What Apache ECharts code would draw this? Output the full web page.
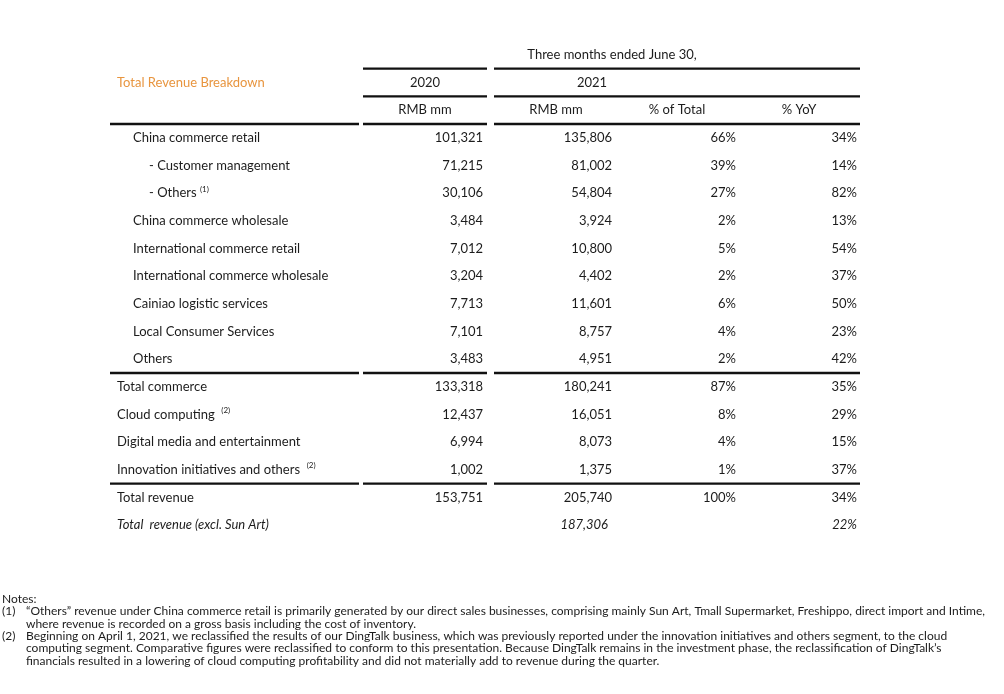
<!DOCTYPE html>
<html>
<head>
<meta charset="utf-8">
<script src="https://cdn.jsdelivr.net/npm/echarts@6/dist/echarts.min.js"></script>
<style>
html,body{margin:0;padding:0;background:#fff;}
#chart{width:1004px;height:694px;}
</style>
</head>
<body>
<div id="chart"></div>
<script>
// ---------------- data ----------------
const periodHeader = 'Three months ended June 30,';
const tableTitle = 'Total Revenue Breakdown';
const yearHeaders = ['2020', '2021'];
const unitHeaders = ['RMB mm', 'RMB mm', '% of Total', '% YoY'];

const rowLabels = [
  'China commerce retail',
  '- Customer management',
  '- Others',
  'China commerce wholesale',
  'International commerce retail',
  'International commerce wholesale',
  'Cainiao logistic services',
  'Local Consumer Services',
  'Others',
  'Total commerce',
  'Cloud computing',
  'Digital media and entertainment',
  'Innovation initiatives and others',
  'Total revenue',
  'Total  revenue (excl. Sun Art)'
];
const rowLevel = [1, 2, 2, 1, 1, 1, 1, 1, 1, 0, 0, 0, 0, 0, 0];
const rowNote = ['', '', '(1)', '', '', '', '', '', '', '', '(2)', '', '(2)', '', ''];
const rowItalic = [0, 0, 0, 0, 0, 0, 0, 0, 0, 0, 0, 0, 0, 0, 1];

const rev2020 = [101321, 71215, 30106, 3484, 7012, 3204, 7713, 7101, 3483, 133318, 12437, 6994, 1002, 153751, null];
const rev2021 = [135806, 81002, 54804, 3924, 10800, 4402, 11601, 8757, 4951, 180241, 16051, 8073, 1375, 205740, 187306];
const pctOfTotal = [66, 39, 27, 2, 5, 2, 6, 4, 2, 87, 8, 4, 1, 100, null];
const pctYoY = [34, 14, 82, 13, 54, 37, 50, 23, 42, 35, 29, 15, 37, 34, 22];

const notesLead = ['Notes:', '(1)', '', '(2)', '', ''];
const notesText = [
  '\u201cOthers\u201d revenue under China commerce retail is primarily generated by our direct sales businesses, comprising mainly Sun Art, Tmall Supermarket, Freshippo, direct import and Intime,',
  'where revenue is recorded on a gross basis including the cost of inventory.',
  'Beginning on April 1, 2021, we reclassified the results of our DingTalk business, which was previously reported under the innovation initiatives and others segment, to the cloud',
  'computing segment. Comparative figures were reclassified to conform to this presentation. Because DingTalk remains in the investment phase, the reclassification of DingTalk\u2019s',
  'financials resulted in a lowering of cloud computing profitability and did not materially add to revenue during the quarter.'
];

// ---------------- layout (positions on the x scale, row units on the y scale) ----------------
const FONT = 'Lato, "Open Sans", sans-serif';
const TEXT = '#1c1c1c';
const ORANGE = '#E8953F';
const levelX = [117, 133, 149];
const colRight = { r2020: 483, r2021: 612, pTot: 736, pYoY: 857 };
const center = { period: 612, y2020: 425, y2021: 592, u2020: 425, u2021: 556, uTot: 677, uYoY: 799 };
const HEADER_ROWS = 3;
const segLabel = [110, 359], seg2020 = [363, 487], seg2021 = [494, 860];
const rules = [
  [seg2020, 0.5], [seg2021, 0.5],
  [seg2020, 1.5], [seg2021, 1.5],
  [segLabel, 2.5], [seg2020, 2.5], [seg2021, 2.5],
  [segLabel, 11.5], [seg2020, 11.5], [seg2021, 11.5],
  [segLabel, 15.5], [seg2020, 15.5], [seg2021, 15.5]
];

// ---------------- build cells ----------------
const fmtNum = v => v == null ? '' : v.toLocaleString('en-US');
const fmtPct = v => v == null ? '' : v + '%';
const cells = [];
cells.push({ x: center.period, row: 0, text: periodHeader, align: 'center' });
cells.push({ x: levelX[0], row: 1, text: tableTitle, align: 'left', color: ORANGE });
cells.push({ x: center.y2020, row: 1, text: yearHeaders[0], align: 'center' });
cells.push({ x: center.y2021, row: 1, text: yearHeaders[1], align: 'center' });
[center.u2020, center.u2021, center.uTot, center.uYoY].forEach((cx, i) => {
  cells.push({ x: cx, row: 2, text: unitHeaders[i], align: 'center' });
});
rowLabels.forEach((lab, i) => {
  const row = HEADER_ROWS + i;
  const it = !!rowItalic[i];
  let t = lab;
  if (rowNote[i]) {
    const gap = i === 2 ? ' ' : '  ';
    t = lab + gap + '{sup|' + rowNote[i] + '}';
  }
  cells.push({ x: levelX[rowLevel[i]], row, text: t, align: 'left', italic: it });
  cells.push({ x: colRight.r2020, row, text: fmtNum(rev2020[i]), align: 'right', italic: it });
  cells.push({ x: colRight.r2021 - (it ? 4 : 0), row, text: fmtNum(rev2021[i]), align: 'right', italic: it });
  cells.push({ x: colRight.pTot, row, text: fmtPct(pctOfTotal[i]), align: 'right', italic: it });
  cells.push({ x: colRight.pYoY, row, text: fmtPct(pctYoY[i]), align: 'right', italic: it });
});

const chart = echarts.init(document.getElementById('chart'), null, { renderer: 'canvas' });

const NOTE_SIZE = 12;
const NOTE_LH = 12.3;
const option = {
  backgroundColor: '#ffffff',
  animation: false,
  grid: { left: 0, right: 0, top: 41, height: 498, containLabel: false },
  xAxis: { type: 'value', min: 0, max: 1004, show: false },
  yAxis: { type: 'value', min: -0.5, max: 17.5, inverse: true, show: false },
  title: [
    {
      text: notesLead.join('\n'),
      left: 2, top: 593, padding: 0,
      textStyle: { fontFamily: FONT, fontSize: NOTE_SIZE, fontWeight: 'normal', color: TEXT, lineHeight: NOTE_LH }
    },
    {
      text: notesText.join('\n'),
      left: 26, top: 593 + NOTE_LH, padding: 0,
      textStyle: { fontFamily: FONT, fontSize: NOTE_SIZE, fontWeight: 'normal', color: TEXT, lineHeight: NOTE_LH }
    }
  ],
  series: [
    {
      type: 'custom',
      name: 'rules',
      silent: true,
      clip: false,
      data: rules.map(r => [r[0][0], r[0][1], r[1]]),
      encode: { x: [0, 1], y: 2 },
      renderItem: function (params, api) {
        const a = api.coord([api.value(0), api.value(2)]);
        const b = api.coord([api.value(1), api.value(2)]);
        return {
          type: 'line',
          shape: { x1: a[0], y1: a[1], x2: b[0], y2: b[1] },
          style: { stroke: '#111', lineWidth: 2.4 }
        };
      }
    },
    {
      type: 'custom',
      name: 'cells',
      silent: true,
      clip: false,
      data: cells.map(c => [c.x, c.row]),
      encode: { x: 0, y: 1 },
      renderItem: function (params, api) {
        const c = cells[params.dataIndex];
        const p = api.coord([api.value(0), api.value(1)]);
        return {
          type: 'text',
          x: p[0], y: p[1],
          style: {
            text: c.text,
            align: c.align,
            verticalAlign: 'middle',
            fontFamily: FONT,
            fontSize: 13,
            fontStyle: c.italic ? 'italic' : 'normal',
            fill: c.color || TEXT,
            rich: {
              sup: { fontFamily: FONT, fontSize: 8, fill: TEXT, color: TEXT, padding: [0, 0, 8, 0] }
            }
          }
        };
      }
    }
  ]
};
chart.setOption(option);
</script>
</body>
</html>
